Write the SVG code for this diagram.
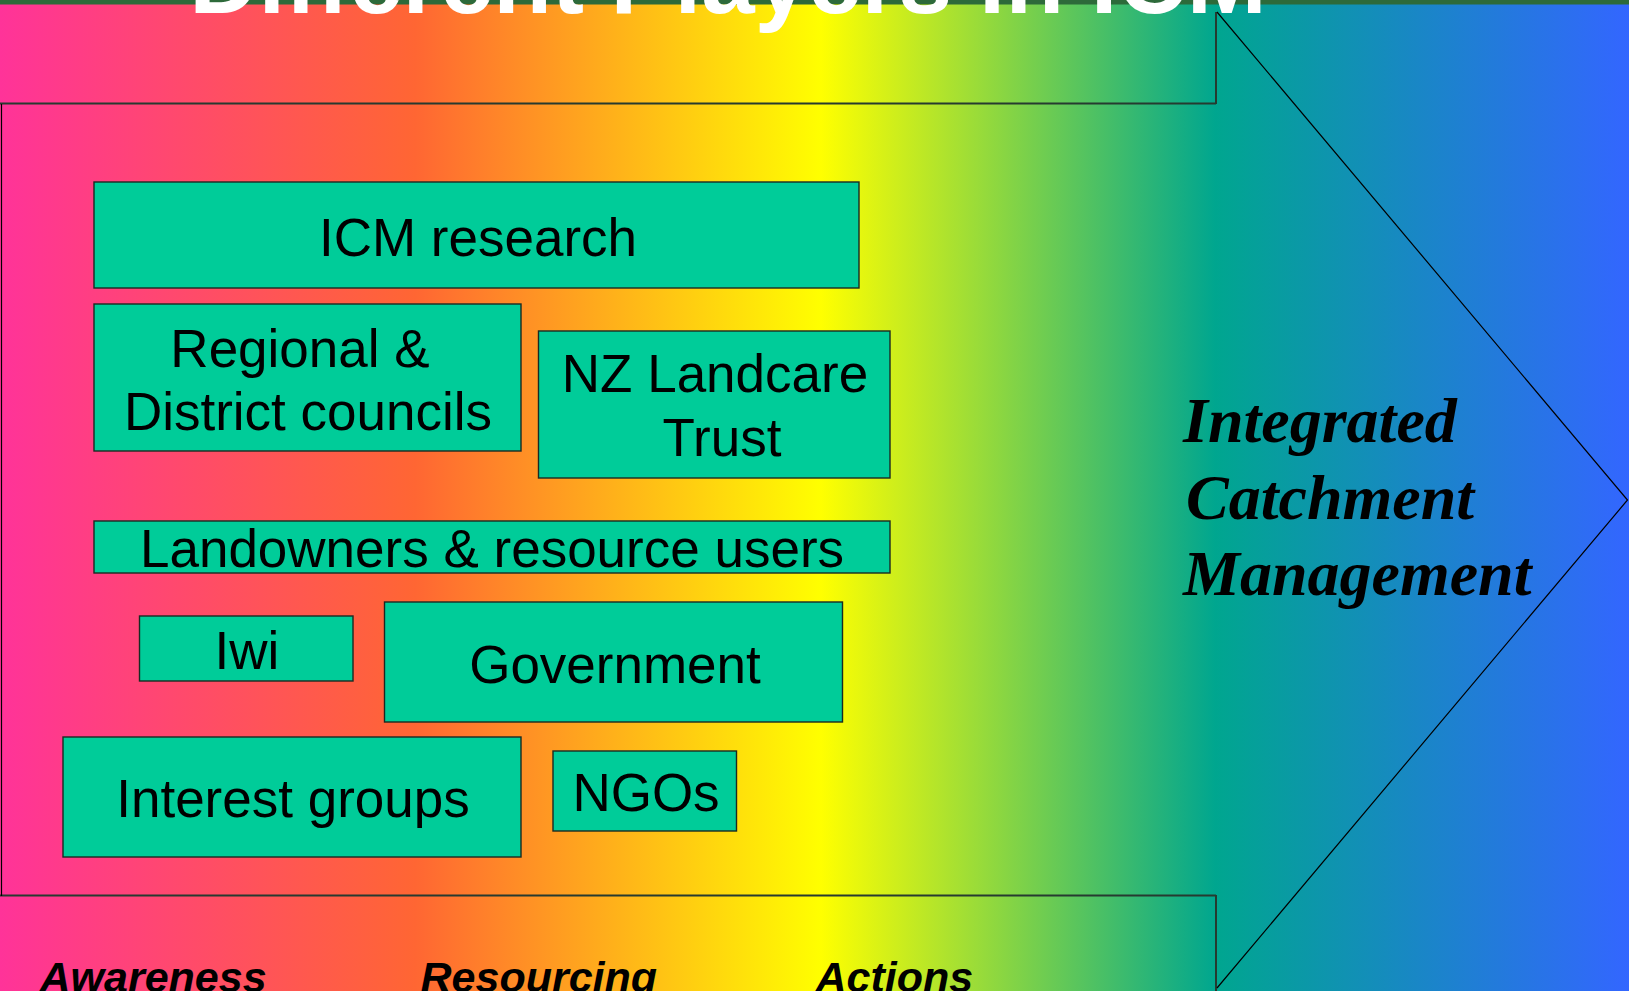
<svg xmlns="http://www.w3.org/2000/svg" width="1629" height="991" viewBox="0 0 1629 991">
  <defs>
    <linearGradient id="bg" x1="0" y1="0" x2="1629" y2="0" gradientUnits="userSpaceOnUse">
      <stop offset="0" stop-color="#FF3399"/>
      <stop offset="0.255" stop-color="#FF6633"/>
      <stop offset="0.504" stop-color="#FFFF00"/>
      <stop offset="0.746" stop-color="#00A68F"/>
      <stop offset="1" stop-color="#3366FF"/>
    </linearGradient>
    <style>
      .box { fill: #00CC99; stroke: #1a2a22; stroke-width: 1.4; }
      .lbl { font-family: "Liberation Sans", Arial, sans-serif; font-size: 53px; fill: #000; text-anchor: middle; }
      .icm { font-family: "Liberation Serif", "Times New Roman", serif; font-size: 64px; font-weight: bold; font-style: italic; fill: #000; }
      .stage { font-family: "Liberation Sans", Arial, sans-serif; font-size: 43px; font-weight: bold; font-style: italic; fill: #000; }
      .title { font-family: "Liberation Sans", Arial, sans-serif; font-size: 96px; font-weight: bold; fill: #fff; text-anchor: middle; }
      .edge { stroke: #000; stroke-width: 1.2; fill: none; }
      .edge2 { stroke: #263a30; stroke-width: 2; fill: none; }
    </style>
  </defs>

  <rect x="0" y="0" width="1629" height="991" fill="url(#bg)"/>
  <rect x="0" y="0" width="1629" height="4.5" fill="#2D6A3A"/>

  <g id="title">
    <text class="title" x="728" y="13">Different Players in ICM</text>
  </g>

  <g id="arrow">
    <line class="edge2" x1="0" y1="103.5" x2="1216" y2="103.5"/>
    <line class="edge2" x1="0" y1="895.5" x2="1216" y2="895.5"/>
    <line class="edge2" x1="1216" y1="12" x2="1216" y2="104"/>
    <line class="edge2" x1="1216" y1="895" x2="1216" y2="991"/>
    <line class="edge" x1="1.5" y1="104" x2="1.5" y2="896"/>
    <polyline class="edge" points="1217,12 1627.5,500 1217,988"/>
  </g>

  <g id="node-icm-research">
    <rect class="box" x="94" y="182" width="765" height="106"/>
    <text class="lbl" x="478" y="256">ICM research</text>
  </g>

  <g id="node-councils">
    <rect class="box" x="94" y="304" width="427" height="147"/>
    <text class="lbl" x="300" y="367">Regional &amp;</text>
    <text class="lbl" x="308" y="430">District councils</text>
  </g>

  <g id="node-landcare">
    <rect class="box" x="538.5" y="331" width="351.5" height="147"/>
    <text class="lbl" x="715" y="392">NZ Landcare</text>
    <text class="lbl" x="722" y="456">Trust</text>
  </g>

  <g id="node-landowners">
    <rect class="box" x="94" y="521" width="796" height="52"/>
    <text class="lbl" x="492" y="567">Landowners &amp; resource users</text>
  </g>

  <g id="node-iwi">
    <rect class="box" x="139.5" y="616" width="213.5" height="65"/>
    <text class="lbl" x="247" y="669">Iwi</text>
  </g>

  <g id="node-government">
    <rect class="box" x="384.5" y="602" width="458" height="120"/>
    <text class="lbl" x="615" y="683">Government</text>
  </g>

  <g id="node-interest-groups">
    <rect class="box" x="63" y="737" width="458" height="120"/>
    <text class="lbl" x="293" y="817">Interest groups</text>
  </g>

  <g id="node-ngos">
    <rect class="box" x="553" y="751" width="183.5" height="80"/>
    <text class="lbl" x="646" y="811">NGOs</text>
  </g>

  <g id="node-icm">
    <text class="icm" x="1183" y="442">Integrated</text>
    <text class="icm" x="1186" y="519">Catchment</text>
    <text class="icm" x="1183" y="595">Management</text>
  </g>

  <g id="stages">
    <text class="stage" x="39.5" y="992">Awareness</text>
    <text class="stage" x="420.5" y="992">Resourcing</text>
    <text class="stage" x="815.5" y="992">Actions</text>
  </g>
</svg>
